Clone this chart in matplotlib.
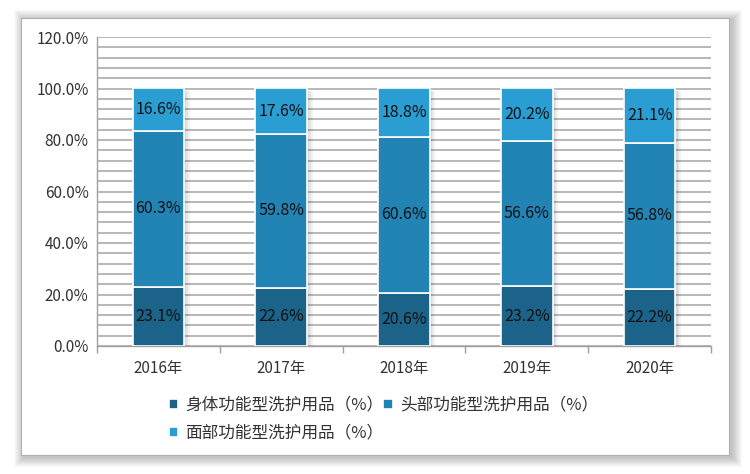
import matplotlib
matplotlib.use("Agg")
import matplotlib.pyplot as plt
from matplotlib.patches import Rectangle
from matplotlib.ticker import MultipleLocator, FuncFormatter
import numpy as np

plt.rcParams['font.family'] = ['Noto Sans CJK SC', 'DejaVu Sans']

years = ['2016年', '2017年', '2018年', '2019年', '2020年']
body = [23.1, 22.6, 20.6, 23.2, 22.2]
head = [60.3, 59.8, 60.6, 56.6, 56.8]
face = [16.6, 17.6, 18.8, 20.2, 21.1]
series_names = ['身体功能型洗护用品（%）', '头部功能型洗护用品（%）', '面部功能型洗护用品（%）']
colors = ['#1b6388', '#2283b5', '#2a9ed3']

W, H = 750, 474
fig = plt.figure(figsize=(W/100, H/100), dpi=100)
fig.patch.set_facecolor('white')

# card with soft shadow
cx0, cy0, cx1, cy1 = 21, 18, 729, 455
for i in range(10):
    off = 10 - i
    sh = Rectangle(((cx0 - off + 3)/W, 1 - (cy1 + off + 2)/H), (cx1 - cx0 + 2*off)/W, (cy1 - cy0 + 2*off)/H,
                   transform=fig.transFigure, facecolor='black', alpha=0.022, edgecolor='none', zorder=0)
    fig.patches.append(sh)
card = Rectangle((cx0/W, 1 - cy1/H), (cx1 - cx0)/W, (cy1 - cy0)/H, transform=fig.transFigure,
                 facecolor='white', edgecolor='#b0b0b0', linewidth=0.8, zorder=1)
fig.patches.append(card)

ax_l, ax_r, ax_t, ax_b = 97, 711, 37, 346
ax = fig.add_axes([ax_l/W, 1 - ax_b/H, (ax_r - ax_l)/W, (ax_b - ax_t)/H])
ax.set_facecolor('none')
ax.set_zorder(2)

x = np.arange(len(years))
bw = 0.42
b1 = ax.bar(x, body, bw, color=colors[0], edgecolor='white', linewidth=1.2, zorder=3, label=series_names[0])
b2 = ax.bar(x, head, bw, bottom=body, color=colors[1], edgecolor='white', linewidth=1.2, zorder=3, label=series_names[1])
bottom2 = [a + b for a, b in zip(body, head)]
b3 = ax.bar(x, face, bw, bottom=bottom2, color=colors[2], edgecolor='white', linewidth=1.2, zorder=3, label=series_names[2])

# subtle bar shadows
for i in range(len(years)):
    top = body[i] + head[i] + face[i]
    for k, w in enumerate([0.045, 0.03, 0.018]):
        ax.add_patch(Rectangle((x[i] + bw/2, 0), w, top - 1.0, facecolor='black', alpha=0.05,
                               edgecolor='none', zorder=2.5))

for i in range(len(years)):
    ax.text(x[i], body[i]/2, f'{body[i]:.1f}%', ha='center', va='center', fontsize=11.5, color='#111111', zorder=4)
    ax.text(x[i], body[i] + head[i]/2, f'{head[i]:.1f}%', ha='center', va='center', fontsize=11.5, color='#111111', zorder=4)
    ax.text(x[i], bottom2[i] + face[i]/2, f'{face[i]:.1f}%', ha='center', va='center', fontsize=11.5, color='#111111', zorder=4)

ax.set_xlim(-0.5, len(years) - 0.5)
ax.set_ylim(0, 120)
ax.yaxis.set_major_locator(MultipleLocator(20))
ax.yaxis.set_minor_locator(MultipleLocator(4))
ax.yaxis.set_major_formatter(FuncFormatter(lambda v, p: f'{v:.1f}%'))
ax.grid(axis='y', which='both', color='#b8b8b8', linewidth=1.4, zorder=1)
ax.set_axisbelow(True)

ax.set_xticks(x)
ax.set_xticklabels(years)
ax.set_xticks(np.arange(-0.5, len(years)), minor=True)
ax.tick_params(axis='x', which='major', length=0, pad=10, labelsize=11, labelcolor='#333333')
ax.tick_params(axis='x', which='minor', length=5, color='#a0a0a0', width=1)
ax.tick_params(axis='y', which='both', length=0, pad=6, labelsize=11, labelcolor='#333333')

for s in ['top', 'right']:
    ax.spines[s].set_visible(False)
ax.spines['left'].set_color('#a0a0a0')
ax.spines['bottom'].set_color('#a0a0a0')
ax.spines['left'].set_linewidth(1)
ax.spines['bottom'].set_linewidth(1)

handles = [b1, b3, b2]
labels = [series_names[0], series_names[2], series_names[1]]
leg = fig.legend(handles, labels, ncol=2, loc='upper left', bbox_to_anchor=(162/W, 1 - 390/H),
                 frameon=False, fontsize=12, handlelength=0.55, handleheight=0.55, handletextpad=0.45,
                 columnspacing=0.0, labelspacing=0.65, borderaxespad=0)
for t in leg.get_texts():
    t.set_color('#333333')

fig.savefig('out.png', dpi=100, facecolor='white')
